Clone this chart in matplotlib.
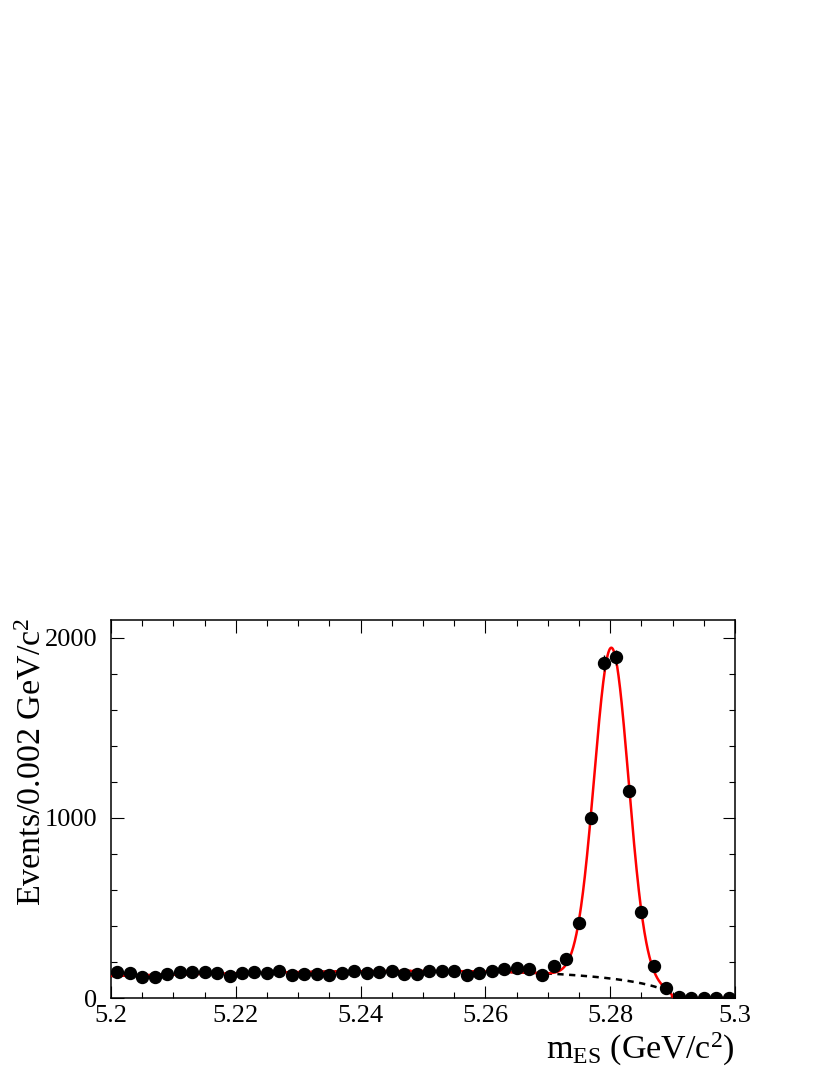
import numpy as np
import matplotlib
matplotlib.use("Agg")
import matplotlib.pyplot as plt
from matplotlib.ticker import MultipleLocator

# ---- data ----
bin_width = 0.002
bin_centers = np.round(np.arange(5.201, 5.300, bin_width), 4)
events = [146, 137, 115, 119, 132, 146, 146, 146, 137, 122,
          141, 144, 141, 150, 128, 135, 135, 130, 139, 148,
          141, 146, 148, 132, 133, 152, 148, 150, 126, 139,
          148, 160, 165, 160, 130, 180, 218, 419, 1000, 1862,
          1892, 1152, 480, 178, 54, 3, 0, 0, 0, 0]

# fit model parameters (ARGUS background + Gaussian signal)
argus_m0 = 5.29
argus_c = -32.0
argus_norm = 378.0
sig_mean = 5.2802
sig_sigma = 0.00275
sig_amp = 1838.0

x_ticks = [5.2, 5.22, 5.24, 5.26, 5.28, 5.3]
x_ticklabels = ["5.2", "5.22", "5.24", "5.26", "5.28", "5.3"]
y_ticks = [0, 1000, 2000]
y_ticklabels = ["0", "1000", "2000"]


def argus(m):
    m = np.asarray(m, dtype=float)
    z = 1.0 - (m / argus_m0) ** 2
    out = np.zeros_like(m)
    ok = z > 0
    out[ok] = argus_norm * m[ok] * np.sqrt(z[ok]) * np.exp(argus_c * z[ok])
    return out


def gauss(m):
    return sig_amp * np.exp(-0.5 * ((m - sig_mean) / sig_sigma) ** 2)


plt.rcParams["font.family"] = ["Liberation Serif", "DejaVu Serif"]
plt.rcParams["mathtext.fontset"] = "custom"
plt.rcParams["mathtext.rm"] = "Liberation Serif"
plt.rcParams["mathtext.it"] = "Liberation Serif:italic"
plt.rcParams["mathtext.bf"] = "Liberation Serif:bold"

fig = plt.figure(figsize=(8.3, 10.75), dpi=100)
ax = fig.add_axes([0.1337, 0.0716, 0.8855 - 0.1337, 0.4233 - 0.0716])

mm = np.linspace(5.2, 5.3, 2000)
bkg = argus(mm)
total = bkg + gauss(mm)
bmask = mm <= argus_m0
ax.plot(mm[bmask], bkg[bmask], color="black", lw=1.8, ls=(0, (2.5, 2.2)), zorder=2)
ax.plot(mm, total, color="#ff0000", lw=1.8, zorder=3)

ev = np.array(events, dtype=float)
ax.errorbar(bin_centers, ev, yerr=np.sqrt(ev), fmt="o", color="black",
            ms=8.6, elinewidth=1.0, capsize=0, zorder=4, clip_on=True)

ax.set_xlim(5.2, 5.3)
ax.set_ylim(0, 2100)
ax.set_xticks(x_ticks)
ax.set_xticklabels(x_ticklabels)
ax.set_yticks(y_ticks)
ax.set_yticklabels(y_ticklabels)
ax.xaxis.set_minor_locator(MultipleLocator(0.005))
ax.yaxis.set_minor_locator(MultipleLocator(200))
ax.tick_params(which="both", direction="in", top=True, right=True,
               labelsize=19, width=0.8)
ax.tick_params(which="major", length=9)
ax.tick_params(which="minor", length=4.5)
ax.tick_params(axis="x", pad=5)
ax.tick_params(axis="y", pad=10)
for s in ax.spines.values():
    s.set_linewidth(1.1)

ax.set_ylabel("Events/0.002 GeV/c$^{2}$", fontsize=24.5, loc="top")
ax.yaxis.set_label_coords(-0.102, 1.006)
ax.set_xlabel("m$_{\\mathrm{ES}}$ (GeV/c$^{2}$)", fontsize=24.5, loc="right")
ax.xaxis.set_label_coords(1.0, -0.086)

fig.savefig("out.png", dpi=100)
